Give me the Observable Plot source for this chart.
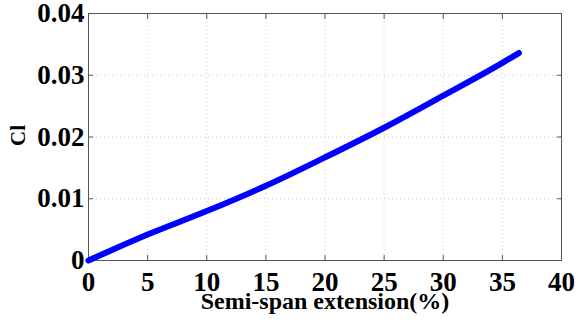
<!DOCTYPE html>
<html><head><meta charset="utf-8">
<script src="https://cdn.jsdelivr.net/npm/d3@7"></script>
<script src="https://cdn.jsdelivr.net/npm/@observablehq/plot@0.6"></script>
<style>body{margin:0;background:#fff}</style>
</head><body><div id="chart"></div>
<script>
const extension = [0, 5, 10, 15, 20, 25, 30, 35, 36.4];
const cl = [0, 0.0042, 0.0080, 0.0121, 0.0167, 0.0215, 0.0267, 0.0320, 0.0336];
const xTicks = [0, 5, 10, 15, 20, 25, 30, 35, 40];
const yTicks = [0, 0.01, 0.02, 0.03, 0.04];
const xLabel = "Semi-span extension(%)";
const yLabel = "Cl";
const data = extension.map((x, i) => ({x, y: cl[i]}));
const axisColor = "#555";
const chart = Plot.plot({
  width: 578, height: 325,
  marginLeft: 88, marginRight: 17, marginTop: 13, marginBottom: 65,
  style: {fontFamily: "Liberation Serif", background: "#fff"},
  x: {domain: [0, 40]},
  y: {domain: [0, 0.04]},
  marks: [
    Plot.gridX(xTicks, {stroke: "#ccc", strokeOpacity: 1, strokeDasharray: "1,3"}),
    Plot.gridY(yTicks, {stroke: "#ccc", strokeOpacity: 1, strokeDasharray: "1,3"}),
    Plot.frame({stroke: axisColor}),
    Plot.axisX(xTicks, {anchor: "bottom", tickSize: -5, tickPadding: 16, fontSize: 27, fontWeight: "bold", fill: "#000", stroke: axisColor, label: null}),
    Plot.axisX(xTicks, {anchor: "top", tickSize: -5, tickFormat: () => "", stroke: axisColor, label: null}),
    Plot.axisY(yTicks, {anchor: "left", tickSize: -5, tickPadding: 9, fontSize: 27, fontWeight: "bold", fill: "#000", stroke: axisColor, label: null, tickFormat: d => d === 0 ? "0" : d.toFixed(2)}),
    Plot.axisY(yTicks, {anchor: "right", tickSize: -5, tickFormat: () => "", stroke: axisColor, label: null}),
    Plot.line(data, {x: "x", y: "y", stroke: "#0000ff", strokeWidth: 6, strokeLinecap: "round", strokeLinejoin: "round", curve: "monotone-x"}),
    Plot.text([xLabel], {frameAnchor: "bottom", dy: 48, fontSize: 24, fontWeight: "bold", text: d => d, fill: "#000"}),
    Plot.text([yLabel], {frameAnchor: "left", dx: -70, dy: 9, rotate: -90, fontSize: 21, fontWeight: "bold", text: d => d, fill: "#000"})
  ]
});
document.getElementById("chart").appendChild(chart);
</script>
</body></html>
